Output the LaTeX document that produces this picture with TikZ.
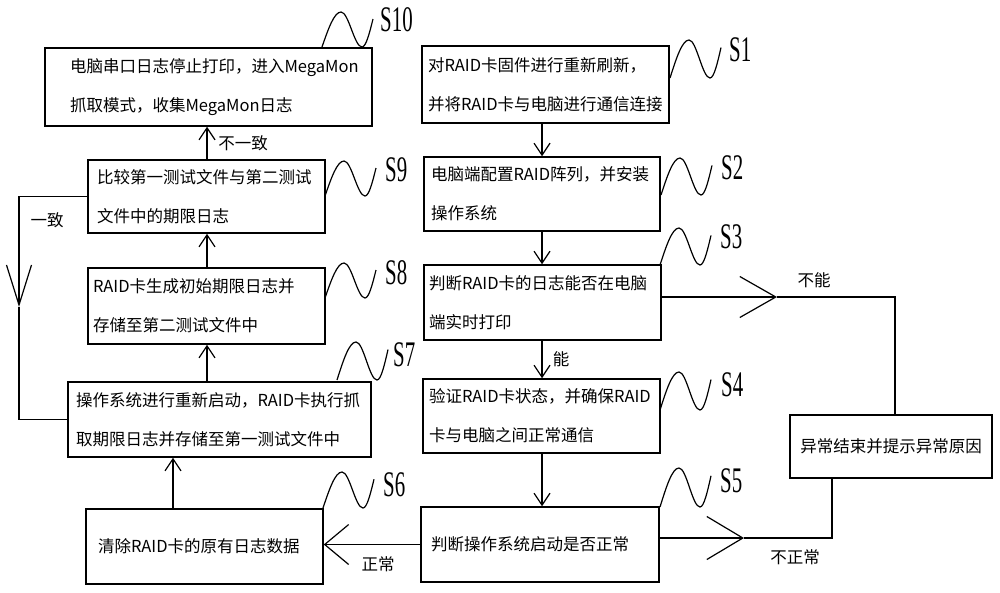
\documentclass[tikz,border=0pt]{standalone}
\usepackage{fontspec}
\newfontfamily\cjk{Noto Sans CJK SC}
\newfontfamily\lab{Liberation Serif}
\usetikzlibrary{arrows.meta}
\newcommand\wave[3]{\draw[wavy] (#1,#2) sin ++(19,-#3) cos ++(10.5,#3/2) sin ++(10.5,#3/2) cos ++(11,-0.8*#3);}
\newcommand\slab[1]{\scalebox{0.58}[1]{#1}}
\tikzset{
  box/.style={draw, line width=1.5pt, align=left, inner ysep=0pt, font=\cjk\fontsize{16.5}{39}\selectfont},
  conn/.style={line width=1.2pt},
  sarrow/.style={conn, -{Straight Barb[length=12pt,width=16pt]}},
  wavy/.style={line width=1.2pt},
  steplab/.style={font=\lab\fontsize{36}{36}\selectfont, anchor=west, inner sep=0pt},
  cond/.style={font=\cjk\fontsize{16.5}{18}\selectfont, inner sep=0pt}
}
\begin{document}
\begin{tikzpicture}[x=1pt,y=-1pt]
\fill[white] (0,0) rectangle (1000,592);
\useasboundingbox (0,0) rectangle (1000,592);
% left column
\node[box, minimum height=78pt, inner xsep=25pt, text width=277pt] (S10) at (208.5,87) {电脑串口日志停止打印，进入MegaMon\\抓取模式，收集MegaMon日志};
\node[box, minimum height=73pt, inner xsep=9pt, text width=219pt] (S9) at (206.5,196.5) {比较第一测试文件与第二测试\\文件中的期限日志};
\node[box, minimum height=76pt, inner xsep=5pt, text width=227pt] (S8) at (206.5,306) {RAID卡生成初始期限日志并\\存储至第二测试文件中};
\node[box, minimum height=75pt, inner xsep=8pt, text width=287pt] (S7) at (219.5,419.5) {操作系统进行重新启动，RAID卡执行抓\\取期限日志并存储至第一测试文件中};
\node[box, minimum height=75pt, inner xsep=12pt, text width=213pt] (S6) at (204.5,546.5) {清除RAID卡的原有日志数据};
% right column
\node[box, minimum height=77pt, inner xsep=6pt, text width=235pt] (S1) at (545.5,84.5) {对RAID卡固件进行重新刷新，\\并将RAID卡与电脑进行通信连接};
\node[box, minimum height=74pt, inner xsep=7pt, text width=222pt] (S2) at (542,194) {电脑端配置RAID阵列，并安装\\操作系统};
\node[box, minimum height=75pt, inner xsep=5pt, text width=227pt] (S3) at (542.5,302.5) {判断RAID卡的日志能否在电脑\\端实时打印};
\node[box, minimum height=74pt, inner xsep=6pt, text width=225pt] (S4) at (541.5,416) {验证RAID卡状态，并确保RAID\\卡与电脑之间正常通信};
\node[box, minimum height=75pt, inner xsep=10pt, text width=218pt] (S5) at (540,544.5) {判断操作系统启动是否正常};
\node[box, align=center, minimum height=63pt, minimum width=202pt] (abn) at (891,446.5) {异常结束并提示异常原因};
% helper coordinates
\coordinate (xa) at (207,0);
\coordinate (xb) at (542,0);
\coordinate (xc) at (173,0);
% vertical arrows
\draw[sarrow] (S9.north -| xa) -- (S10.south -| xa);
\draw[sarrow] (S8.north -| xa) -- (S9.south -| xa);
\draw[sarrow] (S7.north -| xa) -- (S8.south -| xa);
\draw[sarrow] (S6.north -| xc) -- (S7.south -| xc);
\draw[sarrow] (S1.south -| xb) -- (S2.north -| xb);
\draw[sarrow] (S2.south -| xb) -- (S3.north -| xb);
\draw[sarrow] (S3.south -| xb) -- (S4.north -| xb);
\draw[sarrow] (S4.south -| xb) -- (S5.north -| xb);
% loop (一致)
\coordinate (l1) at (19,197);
\coordinate (l2) at (19,307);
\draw[conn, -{Straight Barb[length=40pt,width=25pt]}] (S9.west) -- (S9.west -| l1) -- (l2);
\draw[conn] (l2) -- (l2 |- S7.west) -- (S7.west);
% 不能
\coordinate (nb) at (777,297);
\coordinate (c1) at (895,297);
\draw[conn, -{Straight Barb[length=36pt,width=41pt]}] (S3.east |- nb) -- (nb);
\draw[conn] (nb) -- (c1) -- (c1 |- abn.north);
% 不正常
\coordinate (nz) at (744,538);
\coordinate (c2) at (832,538);
\draw[conn, -{Straight Barb[length=36pt,width=43pt]}] (S5.east |- nz) -- (nz);
\draw[conn] (nz) -- (c2) -- (c2 |- abn.south);
% 正常
\draw[conn, -{Straight Barb[length=24pt,width=40pt]}] (S5.west) -- (S5.west -| S6.east);
% condition labels
\node[cond] (t1) at (243,143) {不一致};
\node[cond] (t2) at (47,220) {一致};
\node[cond] (t3) at (814,280) {不能};
\node[cond] (t4) at (561,359) {能};
\node[cond] (t5) at (378,564) {正常};
\node[cond] (t6) at (795,557) {不正常};
% waves and step labels
\wave{322}{47}{35}
\node[steplab] (L10) at (380,20) {\slab{S10}};
\wave{670}{78}{38}
\node[steplab] (L1) at (729,50) {\slab{S1}};
\wave{661}{195}{37}
\node[steplab] (L2) at (721,168) {\slab{S2}};
\wave{660}{265}{37}
\node[steplab] (L3) at (720,237) {\slab{S3}};
\wave{660}{410}{38}
\node[steplab] (L4) at (721,385) {\slab{S4}};
\wave{660}{507}{39}
\node[steplab] (L5) at (720,481) {\slab{S5}};
\wave{323}{508}{36}
\node[steplab] (L6) at (383,485) {\slab{S6}};
\wave{337}{380}{38}
\node[steplab] (L7) at (393,355) {\slab{S7}};
\wave{325}{298}{35}
\node[steplab] (L8) at (385,273) {\slab{S8}};
\wave{325}{196}{35}
\node[steplab] (L9) at (385,170) {\slab{S9}};
\end{tikzpicture}
\end{document}
